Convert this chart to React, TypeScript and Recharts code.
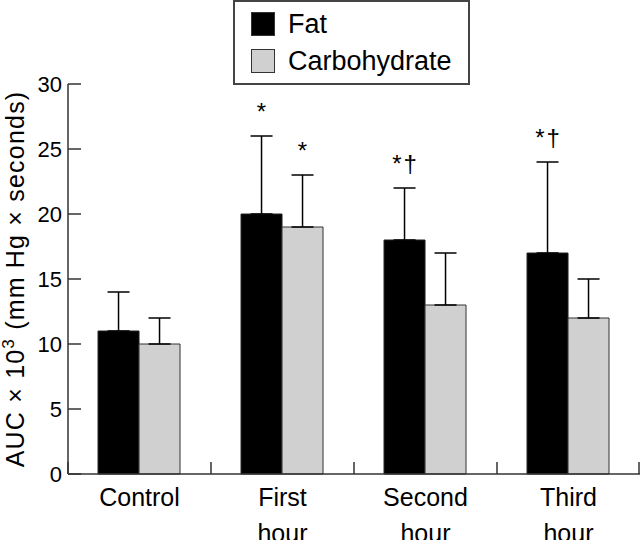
import { BarChart, Bar, XAxis, YAxis, ErrorBar, LabelList, Legend } from 'recharts';

const categories = ['Control', 'First hour', 'Second hour', 'Third hour'];
const seriesNames = ['Fat', 'Carbohydrate'];
const fatMeans = [11, 20, 18, 17];
const fatErrors = [3, 6, 4, 7];
const carbMeans = [10, 19, 13, 12];
const carbErrors = [2, 4, 4, 3];
const fatMarks = ['', '*', '*†', '*†'];
const carbMarks = ['', '*', '', ''];
const yTicks = [0, 5, 10, 15, 20, 25, 30];

const FONT = '"Liberation Sans", Arial, Helvetica, sans-serif';

const data = categories.map((name, i) => ({
  name,
  fat: fatMeans[i],
  fatErr: [0, fatErrors[i]],
  fatMark: fatMarks[i],
  carb: carbMeans[i],
  carbErr: [0, carbErrors[i]],
  carbMark: carbMarks[i],
}));

// significance marks sit above the error bar cap
function makeMark(means: number[], errors: number[]) {
  return (props: any) => {
    const { x, y, width, height, value, index } = props;
    if (!value) return null;
    const perUnit = Number(height) / means[index];
    const top = Number(y) - errors[index] * perUnit;
    return (
      <text
        x={Number(x) + Number(width) / 2 + 1}
        y={top - 16}
        textAnchor="middle"
        fontSize={24}
        fontFamily={FONT}
        letterSpacing={2}
        fill="#000"
      >
        {value}
      </text>
    );
  };
}

// label under each group, plus an inward tick at the group boundaries
function CategoryTick(props: any) {
  const { x, y, payload, index, visibleTicksCount } = props;
  const half = Number(payload.offset) || 0;
  const words = String(payload.value).split(' ');
  const isLast = index === visibleTicksCount - 1;
  return (
    <g>
      {half > 0 && (
        <line x1={x - half} y1={y} x2={x - half} y2={y - 12} stroke="#333" strokeWidth={1.5} />
      )}
      {half > 0 && isLast && (
        <line x1={x + half - 1} y1={y} x2={x + half - 1} y2={y - 12} stroke="#333" strokeWidth={1.5} />
      )}
      <text x={x} y={y} textAnchor="middle" fontSize={25} fontFamily={FONT} fill="#000">
        {words.map((w, i) => (
          <tspan key={i} x={x} dy={i === 0 ? 32 : 36}>
            {w}
          </tspan>
        ))}
      </text>
    </g>
  );
}

function YTitle(props: any) {
  const { viewBox } = props;
  const cx = viewBox.x + 24;
  const cy = viewBox.y + viewBox.height / 2;
  return (
    <text
      x={cx}
      y={cy}
      transform={`rotate(-90, ${cx}, ${cy})`}
      textAnchor="middle"
      fontSize={25}
      letterSpacing={1.2}
      fontFamily={FONT}
      fill="#000"
    >
      AUC × 10
      <tspan dy={-10} fontSize={17}>3</tspan>
      <tspan dy={10}> (mm Hg × seconds)</tspan>
    </text>
  );
}

function LegendBox(props: any) {
  const items = [...(props.payload || [])].sort(
    (a: any, b: any) => seriesNames.indexOf(a.value) - seriesNames.indexOf(b.value)
  );
  return (
    <div
      style={{
        boxSizing: 'border-box',
        width: 237,
        height: 85,
        border: '2px solid #444',
        padding: '10px 0 0 16px',
        fontFamily: FONT,
        fontSize: 27,
      }}
    >
      {items.map((entry: any) => (
        <div key={entry.value} style={{ display: 'flex', alignItems: 'center', height: 24, marginBottom: 13 }}>
          <div
            style={{
              width: 24,
              height: 24,
              boxSizing: 'border-box',
              background: entry.color,
              border: '1px solid #333',
              marginRight: 13,
            }}
          />
          <span style={{ lineHeight: '24px', color: '#000' }}>{entry.value}</span>
        </div>
      ))}
    </div>
  );
}

export default function App() {
  return (
    <div style={{ position: 'absolute', left: 0, top: 0, width: 640, height: 540, background: '#fff' }}>
      <BarChart
        width={640}
        height={540}
        data={data}
        margin={{ top: 84, right: 0, bottom: 0, left: 0 }}
        barCategoryGap="21%"
        barGap={0}
      >
        <XAxis
          dataKey="name"
          interval={0}
          height={66}
          tickLine={false}
          tickSize={0}
          tickMargin={0}
          axisLine={{ stroke: '#333', strokeWidth: 1.5 }}
          tick={<CategoryTick />}
        />
        <YAxis
          domain={[0, 30]}
          ticks={yTicks}
          width={68}
          tickSize={-13}
          tickMargin={19}
          tickLine={{ stroke: '#333', strokeWidth: 1.5 }}
          axisLine={{ stroke: '#333', strokeWidth: 1.5 }}
          tick={{ fontSize: 22, fill: '#000', fontFamily: FONT }}
          label={<YTitle />}
        />
        <Legend
          layout="horizontal"
          verticalAlign="middle"
          align="center"
          content={<LegendBox />}
          wrapperStyle={{ position: 'absolute', top: 0, left: 233, width: 237 }}
        />
        <Bar dataKey="fat" name="Fat" fill="#000" stroke="#222" strokeWidth={1} isAnimationActive={false}>
          <ErrorBar dataKey="fatErr" direction="y" width={11} stroke="#000" strokeWidth={1.5} />
          <LabelList dataKey="fatMark" content={makeMark(fatMeans, fatErrors)} />
        </Bar>
        <Bar dataKey="carb" name="Carbohydrate" fill="#d0d0d0" stroke="#333" strokeWidth={1} isAnimationActive={false}>
          <ErrorBar dataKey="carbErr" direction="y" width={11} stroke="#000" strokeWidth={1.5} />
          <LabelList dataKey="carbMark" content={makeMark(carbMeans, carbErrors)} />
        </Bar>
      </BarChart>
    </div>
  );
}
